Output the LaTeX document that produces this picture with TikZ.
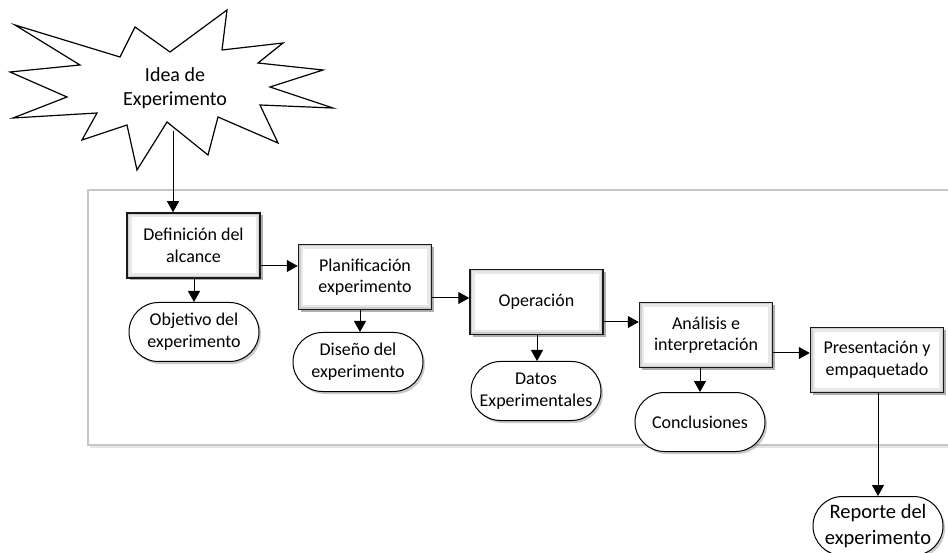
\documentclass[tikz,border=0pt]{standalone}
\usepackage{fontspec}
\setmainfont{Carlito}
\usetikzlibrary{shapes.misc,shadows,arrows.meta}

\tikzset{
  stepbox/.style={
    draw=black!90, line width=1.5pt, rectangle, fill=white,
    minimum width=133pt, minimum height=65pt, inner sep=2pt,
    path picture={
      \draw[gray!18, line width=9pt] (path picture bounding box.south west) rectangle (path picture bounding box.north east);
      \draw[gray!40, line width=4pt] (path picture bounding box.south west) rectangle (path picture bounding box.north east);
    },
    align=center, font=\fontsize{18}{21.5}\selectfont,
    drop shadow={shadow xshift=2.5pt, shadow yshift=-2.5pt, opacity=.45, fill=black!70}
  },
  resultbox/.style={
    draw=black, line width=1pt, rounded rectangle, fill=white,
    minimum width=132pt, minimum height=59pt, inner sep=1pt,
    align=center, font=\fontsize{18}{22}\selectfont,
    drop shadow={shadow xshift=2pt, shadow yshift=-2.5pt, opacity=.35, fill=black!60}
  },
  flow/.style={-{Triangle[length=11pt,width=12pt]}, line width=1pt, draw=black},
  ideafont/.style={font=\fontsize{20}{24}\selectfont, align=center}
}

\begin{document}
\begin{tikzpicture}[x=1pt,y=-1pt]
  \useasboundingbox (0,0) rectangle (948,553);

  % outer process frame
  \fill[black!10] (90,192) rectangle (960,448);
  \draw[draw=gray!45, line width=1.2pt, fill=white] (88,190) rectangle (960,445);

  % idea burst
  \draw[line width=1.2pt, fill=white, line join=miter]
    (15,25) -- (120,57) -- (135,27) -- (170,52) -- (227,10) -- (222,50)
    -- (283,43) -- (258,63) -- (323,70) -- (270,87) -- (333,108)
    -- (260,105) -- (278,143) -- (218,117) -- (208,155) -- (167,122)
    -- (137,170) -- (127,125) -- (82,140) -- (97,113) -- (13,118)
    -- (67,97) -- (10,72) -- (80,65) -- cycle;
  \node[ideafont] (idea) at (175,88) {Idea de\\Experimento};
  \coordinate (ideaout) at (173,131);

  % process steps
  \node[stepbox] (def)  at (193.5,245.5) {Definición del\\alcance};
  \node[stepbox] (plan) at (365,277)   {Planificación\\experimento};
  \node[stepbox] (oper) at (536.5,302) {Operación};
  \node[stepbox] (anal) at (706,335)   {Análisis e\\interpretación};
  \node[stepbox] (pres) at (877,360)   {Presentación y\\empaquetado};

  % results
  \node[resultbox] (obj)  at (194,332)   {Objetivo del\\experimento};
  \node[resultbox] (dis)  at (358,362)   {Diseño del\\experimento};
  \node[resultbox] (dat)  at (536,391)   {Datos\\Experimentales};
  \node[resultbox] (conc) at (700,422)   {Conclusiones};
  \node[resultbox, font=\fontsize{20.5}{26}\selectfont] (rep) at (878,526) {Reporte del\\experimento};

  % connectors
  \draw[flow] (ideaout) -- (ideaout |- def.north);
  \draw[flow] (obj.north |- def.south) -- (obj.north);
  \draw[flow] (def.east |- 0,266) -- (plan.west |- 0,266);
  \draw[flow] (plan.south -| 360,0) -- (dis.north -| 360,0);
  \draw[flow] (plan.east |- 0,298) -- (oper.west |- 0,298);
  \draw[flow] (oper.south -| 537,0) -- (dat.north -| 537,0);
  \draw[flow] (oper.east |- 0,322) -- (anal.west |- 0,322);
  \draw[flow] (anal.south -| 700,0) -- (conc.north -| 700,0);
  \draw[flow] (anal.east |- 0,353) -- (pres.west |- 0,353);
  \draw[flow] (pres.south -| 878,0) -- (rep.north -| 878,0);
\end{tikzpicture}
\end{document}
